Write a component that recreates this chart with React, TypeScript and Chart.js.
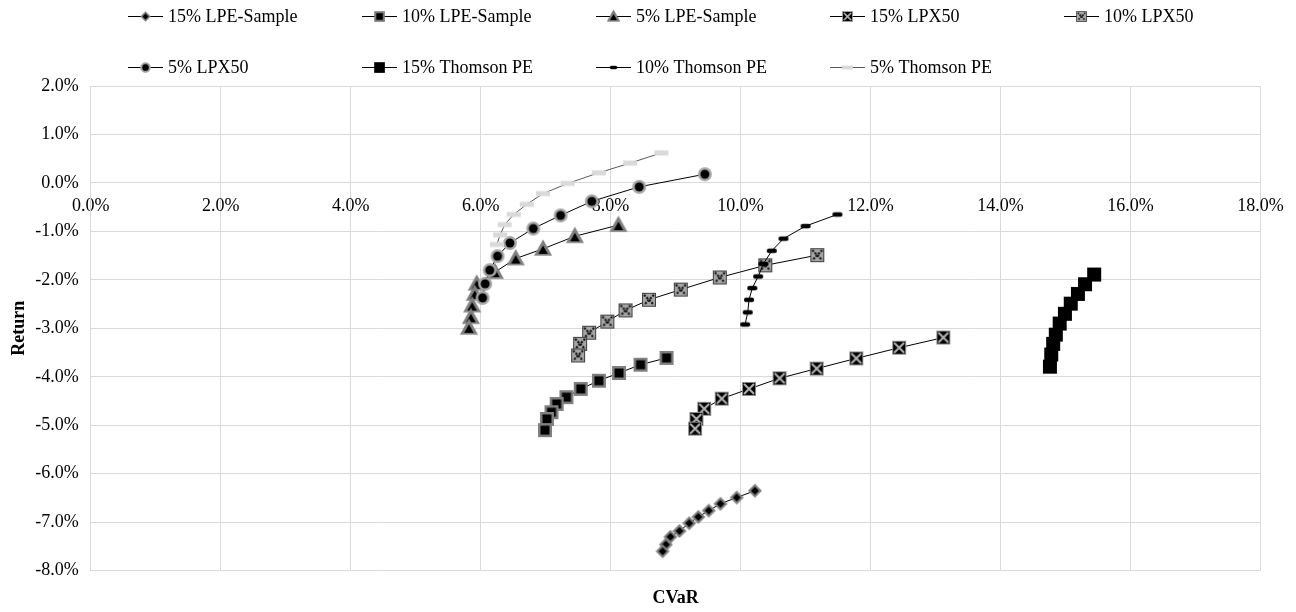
import React, { useEffect, useRef } from "react";
import { Chart, registerables } from "chart.js";

Chart.register(...registerables);

const FONT = "'Liberation Serif', 'Times New Roman', serif";

// Efficient frontiers: CVaR (x) and return (y), both in percent
const lpe15CVaR = [10.22, 9.94, 9.69, 9.51, 9.35, 9.21, 9.06, 8.92, 8.85, 8.8];
const lpe15Ret = [-6.35, -6.49, -6.62, -6.76, -6.89, -7.02, -7.18, -7.3, -7.46, -7.6];

const lpe10CVaR = [8.86, 8.46, 8.13, 7.82, 7.54, 7.32, 7.17, 7.09, 7.02, 6.99];
const lpe10Ret = [-3.61, -3.75, -3.92, -4.08, -4.25, -4.42, -4.56, -4.73, -4.87, -5.1];

const lpe5CVaR = [8.12, 7.45, 6.96, 6.54, 6.22, 5.94, 5.91, 5.87, 5.85, 5.82];
const lpe5Ret = [-0.87, -1.1, -1.36, -1.56, -1.84, -2.08, -2.29, -2.53, -2.77, -2.99];

const lpx15CVaR = [13.12, 12.44, 11.78, 11.17, 10.6, 10.13, 9.71, 9.44, 9.32, 9.3];
const lpx15Ret = [-3.19, -3.4, -3.62, -3.83, -4.03, -4.25, -4.45, -4.66, -4.87, -5.07];

const lpx10CVaR = [11.18, 10.38, 9.68, 9.08, 8.59, 8.23, 7.95, 7.67, 7.53, 7.5];
const lpx10Ret = [-1.49, -1.7, -1.95, -2.2, -2.41, -2.63, -2.86, -3.09, -3.32, -3.56];

const lpx5CVaR = [9.45, 8.44, 7.71, 7.23, 6.81, 6.45, 6.26, 6.14, 6.07, 6.03];
const lpx5Ret = [0.18, -0.08, -0.38, -0.67, -0.94, -1.24, -1.51, -1.8, -2.08, -2.37];

const tpe15CVaR = [15.44, 15.3, 15.19, 15.08, 14.99, 14.91, 14.85, 14.81, 14.78, 14.76];
const tpe15Ret = [-1.89, -2.09, -2.29, -2.49, -2.7, -2.9, -3.13, -3.32, -3.54, -3.79];

const tpe10CVaR = [11.49, 11.0, 10.66, 10.48, 10.35, 10.27, 10.18, 10.13, 10.11, 10.07];
const tpe10Ret = [-0.65, -0.89, -1.15, -1.4, -1.67, -1.93, -2.17, -2.41, -2.67, -2.92];

const tpe5CVaR = [8.78, 8.3, 7.82, 7.34, 6.96, 6.71, 6.51, 6.37, 6.3, 6.25];
const tpe5Ret = [0.62, 0.41, 0.21, -0.01, -0.22, -0.44, -0.65, -0.86, -1.07, -1.27];

const seriesNames = [
  "15% LPE-Sample",
  "10% LPE-Sample",
  "5% LPE-Sample",
  "15% LPX50",
  "10% LPX50",
  "5% LPX50",
  "15% Thomson PE",
  "10% Thomson PE",
  "5% Thomson PE",
];

const xTicks = [0, 2, 4, 6, 8, 10, 12, 14, 16, 18];
const yTicks = [2, 1, 0, -1, -2, -3, -4, -5, -6, -7, -8];

type Marker =
  | "diamond"
  | "square"
  | "triangle"
  | "boxX"
  | "greyBoxX"
  | "circle"
  | "block"
  | "dash"
  | "lightDash";

const seriesMarkers: Marker[] = [
  "diamond",
  "square",
  "triangle",
  "boxX",
  "greyBoxX",
  "circle",
  "block",
  "dash",
  "lightDash",
];

const seriesLineColors = ["#000", "#000", "#000", "#000", "#000", "#000", "#000", "#000", "#595959"];

function makeMarker(kind: Marker): HTMLCanvasElement {
  const size = 20;
  const c = document.createElement("canvas");
  c.width = size;
  c.height = size;
  const g = c.getContext("2d")!;
  const m = size / 2;
  const diamond = (r: number) => {
    g.beginPath();
    g.moveTo(m, m - r);
    g.lineTo(m + r, m);
    g.lineTo(m, m + r);
    g.lineTo(m - r, m);
    g.closePath();
    g.fill();
  };
  const tri = (r: number, dy: number) => {
    g.beginPath();
    g.moveTo(m, m - r + dy);
    g.lineTo(m + r * 0.95, m + r * 0.7 + dy);
    g.lineTo(m - r * 0.95, m + r * 0.7 + dy);
    g.closePath();
    g.fill();
  };
  switch (kind) {
    case "diamond":
      g.fillStyle = "#7f7f7f";
      diamond(7);
      g.fillStyle = "#000";
      diamond(4);
      break;
    case "square":
      g.fillStyle = "#808080";
      g.fillRect(m - 7, m - 7, 14, 14);
      g.fillStyle = "#000";
      g.fillRect(m - 4.5, m - 4.5, 9, 9);
      break;
    case "triangle":
      g.fillStyle = "#808080";
      tri(9.5, 0);
      g.fillStyle = "#000";
      tri(5, 1.5);
      break;
    case "circle":
      g.fillStyle = "#a6a6a6";
      g.beginPath();
      g.arc(m, m, 7, 0, Math.PI * 2);
      g.fill();
      g.fillStyle = "#000";
      g.beginPath();
      g.arc(m, m, 4.5, 0, Math.PI * 2);
      g.fill();
      break;
    case "boxX":
      g.fillStyle = "#000";
      g.fillRect(m - 7, m - 7, 14, 14);
      g.strokeStyle = "#b4b4b4";
      g.lineWidth = 2;
      g.beginPath();
      g.moveTo(m - 5, m - 5);
      g.lineTo(m + 5, m + 5);
      g.moveTo(m + 5, m - 5);
      g.lineTo(m - 5, m + 5);
      g.stroke();
      g.lineWidth = 1;
      g.strokeStyle = "#8c8c8c";
      g.strokeRect(m - 6.5, m - 6.5, 13, 13);
      break;
    case "greyBoxX":
      g.fillStyle = "#a6a6a6";
      g.fillRect(m - 7, m - 7, 14, 14);
      g.strokeStyle = "#111";
      g.lineWidth = 2.2;
      g.setLineDash([2.2, 1.3]);
      g.beginPath();
      g.moveTo(m - 5, m - 5);
      g.lineTo(m + 5, m + 5);
      g.moveTo(m + 5, m - 5);
      g.lineTo(m - 5, m + 5);
      g.stroke();
      g.setLineDash([]);
      g.lineWidth = 1;
      g.strokeStyle = "#404040";
      g.strokeRect(m - 6.5, m - 6.5, 13, 13);
      break;
    case "block":
      g.fillStyle = "#000";
      g.fillRect(m - 7, m - 7, 14, 14);
      break;
    case "dash":
      g.fillStyle = "#000";
      g.beginPath();
      g.roundRect(m - 5, m - 2.25, 10, 4.5, 2);
      g.fill();
      break;
    case "lightDash":
      g.fillStyle = "#d9d9d9";
      g.fillRect(m - 7, m - 2.5, 14, 5);
      break;
  }
  return c;
}

// Two-row legend: entries sit in equal columns shared by both rows, plus the horizontal axis title
const LEGEND_COLUMNS = [120, 354, 588, 822, 1056];
const LEGEND_ROWS = [8, 59];

const legendPlugin = {
  id: "frontierLegend",
  afterDraw(chart: any) {
    const ctx = chart.ctx as CanvasRenderingContext2D;
    ctx.save();
    chart.data.datasets.forEach((ds: any, i: number) => {
      const row = i < 5 ? 0 : 1;
      const col = i < 5 ? i : i - 5;
      const x = LEGEND_COLUMNS[col];
      const y = LEGEND_ROWS[row];
      ctx.strokeStyle = ds.borderColor;
      ctx.lineWidth = 1;
      ctx.beginPath();
      ctx.moveTo(x, y + 0.5);
      ctx.lineTo(x + 35, y + 0.5);
      ctx.stroke();
      const img = ds.pointStyle as HTMLCanvasElement;
      const s = 15;
      ctx.drawImage(img, x + 17.5 - s / 2, y + 0.5 - s / 2, s, s);
      ctx.fillStyle = "#000";
      ctx.font = `18px ${FONT}`;
      ctx.textAlign = "left";
      ctx.textBaseline = "middle";
      ctx.fillText(ds.label, x + 40, y + 1);
    });
    const area = chart.chartArea;
    ctx.font = `bold 18px ${FONT}`;
    ctx.textAlign = "center";
    ctx.textBaseline = "middle";
    ctx.fillStyle = "#000";
    ctx.fillText("CVaR", (area.left + area.right) / 2, area.bottom + 28);
    ctx.restore();
  },
};

const pct = (v: number) => `${Number(v).toFixed(1)}%`;

export default function App() {
  const canvasRef = useRef<HTMLCanvasElement | null>(null);

  useEffect(() => {
    if (!canvasRef.current) return;
    const xs = [lpe15CVaR, lpe10CVaR, lpe5CVaR, lpx15CVaR, lpx10CVaR, lpx5CVaR, tpe15CVaR, tpe10CVaR, tpe5CVaR];
    const ys = [lpe15Ret, lpe10Ret, lpe5Ret, lpx15Ret, lpx10Ret, lpx5Ret, tpe15Ret, tpe10Ret, tpe5Ret];

    const datasets = seriesNames.map((name, i) => ({
      label: name,
      data: xs[i].map((x, k) => ({ x, y: ys[i][k] })),
      showLine: true,
      borderColor: seriesLineColors[i],
      backgroundColor: seriesLineColors[i],
      borderWidth: 1,
      pointStyle: makeMarker(seriesMarkers[i]),
      pointRadius: 7,
      pointHoverRadius: 7,
      tension: 0,
      clip: false as any,
      order: seriesNames.length - i,
    }));

    const chart = new Chart(canvasRef.current, {
      type: "scatter",
      data: { datasets },
      options: {
        animation: false,
        responsive: true,
        maintainAspectRatio: false,
        events: [],
        layout: { padding: { top: 78, left: 0, right: 27.5, bottom: 33.3 } },
        plugins: {
          legend: { display: false },
          tooltip: { enabled: false },
          title: { display: false },
        },
        scales: {
          x: {
            type: "linear",
            min: 0,
            max: 18,
            position: { y: 0 } as any,
            afterBuildTicks: (s: any) => {
              s.ticks = xTicks.map((v) => ({ value: v }));
            },
            afterFit: (s: any) => {
              s.paddingLeft = 0;
              s.paddingRight = 0;
            },
            ticks: {
              callback: (v: any) => pct(v),
              font: { family: FONT, size: 18 },
              color: "#000",
              padding: 13,
              maxRotation: 0,
              autoSkip: false,
            },
            grid: { color: "#d9d9d9", drawTicks: false },
            border: { color: "#d9d9d9" },
          },
          y: {
            type: "linear",
            min: -8,
            max: 2,
            afterBuildTicks: (s: any) => {
              s.ticks = yTicks.map((v) => ({ value: v }));
            },
            afterFit: (s: any) => {
              s.width = 82.7;
            },
            ticks: {
              callback: (v: any) => pct(v),
              font: { family: FONT, size: 18 },
              color: "#000",
              padding: 12,
            },
            grid: { color: "#d9d9d9", drawTicks: false },
            border: { color: "#d9d9d9" },
            title: {
              display: true,
              text: "Return",
              color: "#000",
              font: { family: FONT, size: 18, weight: "bold" },
              padding: { top: 1, bottom: 0 },
            },
          },
        },
      },
      plugins: [legendPlugin],
    });

    return () => chart.destroy();
  }, []);

  return (
    <div style={{ width: 1280, height: 596, position: "relative" }}>
      <canvas ref={canvasRef} />
    </div>
  );
}
